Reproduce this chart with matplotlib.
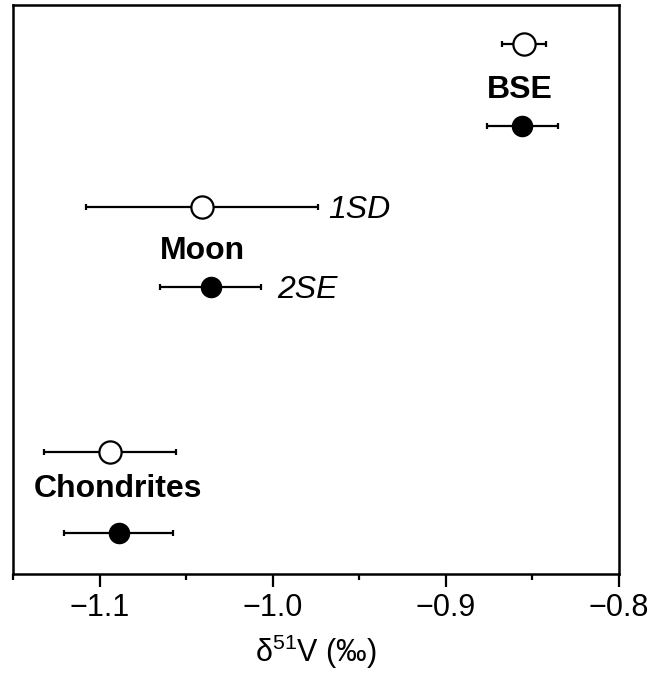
import matplotlib
matplotlib.use("Agg")
import matplotlib.pyplot as plt
from matplotlib.ticker import MultipleLocator

plt.rcParams['font.family'] = ['Liberation Sans', 'DejaVu Sans']
plt.rcParams['mathtext.fontset'] = 'custom'
plt.rcParams['mathtext.rm'] = 'Liberation Sans'

# delta51V values (permil) per reservoir
groups = ["BSE", "Moon", "Chondrites"]
mean_1sd = [-0.8546, -1.041, -1.0941]   # open symbols
err_1sd = [0.0127, 0.0672, 0.0382]
mean_2se = [-0.8556, -1.036, -1.0892]   # filled symbols
err_2se = [0.0204, 0.0291, 0.0316]

# layout: vertical rows (arbitrary units) and label anchors
y_open = [9.31, 6.45, 2.14]
y_label = [8.50, 5.67, 1.49]
y_filled = [7.87, 5.04, 0.72]
label_x = [-0.857, -1.0406, -1.0898]

fig = plt.figure(figsize=(6.52, 6.74), dpi=100)
ax = fig.add_axes([0.0207, 0.1484, 0.928, 0.844])

for i, g in enumerate(groups):
    ax.errorbar(mean_1sd[i], y_open[i], xerr=err_1sd[i], fmt='o', ms=16,
                mfc='white', mec='black', mew=1.6, ecolor='black',
                elinewidth=1.6, capsize=2.5, capthick=1.6, zorder=3)
    ax.errorbar(mean_2se[i], y_filled[i], xerr=err_2se[i], fmt='o', ms=14.5,
                mfc='black', mec='black', ecolor='black',
                elinewidth=1.6, capsize=2.5, capthick=1.6, zorder=3)
    ax.text(label_x[i], y_label[i], g, ha='center', va='center',
            fontsize=23, fontweight='bold')

ax.text(-0.9679, y_open[1] - 0.05, "1SD", ha='left', va='center', fontsize=23,
        style='italic')
ax.text(-0.9976, y_filled[1] - 0.05, "2SE", ha='left', va='center', fontsize=23,
        style='italic')

ax.set_xlim(-1.15, -0.8)
ax.set_ylim(0, 10)
ax.xaxis.set_major_locator(MultipleLocator(0.1))
ax.xaxis.set_minor_locator(MultipleLocator(0.05))
ax.xaxis.set_major_formatter(plt.FuncFormatter(lambda v, p: f"{v:.1f}".replace('-', '\u2212')))
ax.tick_params(axis='x', which='major', direction='out', length=9, width=1.6,
               labelsize=22, pad=5)
ax.tick_params(axis='x', which='minor', direction='out', length=4.5, width=1.6)
ax.set_yticks([])
for s in ax.spines.values():
    s.set_linewidth(1.8)

ax.set_xlabel("δ$^{51}$V (‰)", fontsize=22, labelpad=7)

fig.savefig("out.png", dpi=100)
